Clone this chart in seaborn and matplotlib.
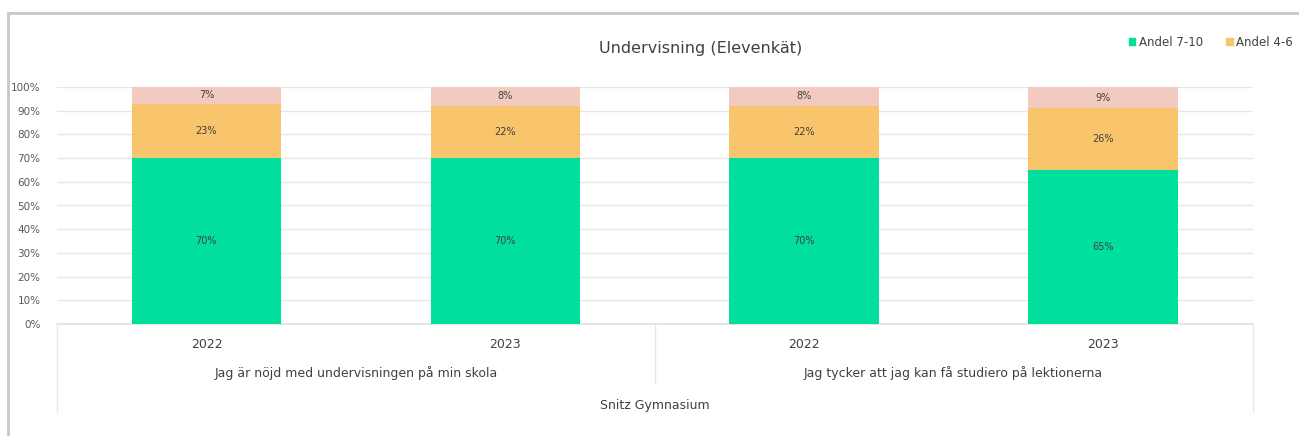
import matplotlib
matplotlib.use("Agg")
import matplotlib.pyplot as plt
import seaborn as sns
import numpy as np
import pandas as pd
from matplotlib.patches import Rectangle
from matplotlib.lines import Line2D

years = ["2022", "2023", "2022", "2023"]
questions = ["Jag är nöjd med undervisningen på min skola",
             "Jag tycker att jag kan få studiero på lektionerna"]
school = "Snitz Gymnasium"
andel_7_10 = [70, 70, 70, 65]
andel_4_6 = [23, 22, 22, 26]
andel_1_3 = [7, 8, 8, 9]
series_names = ["Andel 7-10", "Andel 4-6", "Andel 1-3"]
colors = ["#00DF9C", "#F8C46C", "#F2CAC0"]
title = "Undervisning (Elevenkät)"

sns.set_theme(style="white")
plt.rcParams["font.family"] = ["DejaVu Sans"]

fig = plt.figure(figsize=(12.99, 4.36), dpi=100)
ax = fig.add_axes([57 / 1299, 1 - 324 / 436, (1252.5 - 57) / 1299, (324 - 87) / 436])

bar_ids = [f"b{i}" for i in range(len(years))]
bottom = np.zeros(len(years))
series = [andel_7_10, andel_4_6, andel_1_3]
for vals, name, col in zip(series, series_names, colors):
    v = np.array(vals) / 100.0
    sns.barplot(x=bar_ids, y=v, bottom=bottom, color=col, width=0.5,
                ax=ax, saturation=1, linewidth=0, order=bar_ids)
    for i, (b, h) in enumerate(zip(bottom, v)):
        ax.text(i, b + h / 2, f"{vals[i]}%", ha="center", va="center",
                fontsize=7, color="#404040")
    bottom = bottom + v

leg = ax.get_legend()
if leg is not None:
    leg.remove()

ax.set_xlim(-0.5, 3.5)
ax.set_ylim(0, 1)
ticks = np.arange(0, 1.01, 0.1)
ax.set_yticks(ticks)
ax.set_yticklabels([f"{int(round(t*100))}%" for t in ticks],
                   fontsize=7.5, color="#595959")
ax.tick_params(axis="y", length=0, pad=12)
ax.set_xticks([])
ax.set_xlabel("")
ax.set_ylabel("")
for s in ax.spines.values():
    s.set_visible(False)
ax.yaxis.grid(True, color="#E6E6E6", linewidth=1)
ax.set_axisbelow(True)
ax.add_line(Line2D([-0.5, 3.5], [0, 0], color="#E0E0E0", linewidth=1.2,
                   clip_on=False, zorder=0.5))

trans = ax.get_xaxis_transform()
for i, y in enumerate(years):
    ax.text(i, -0.088, y, ha="center", va="center", fontsize=9,
            color="#404040", transform=trans)
for j, q in enumerate(questions):
    ax.text(j * 2 + 0.5, -0.207, q, ha="center", va="center", fontsize=9,
            color="#404040", transform=trans)
ax.text(1.5, -0.342, school, ha="center", va="center", fontsize=9,
        color="#404040", transform=trans)
for x, yb in [(-0.5, -0.371), (1.5, -0.249), (3.5, -0.371)]:
    ax.add_line(Line2D([x, x], [0, yb], color="#E6E6E6", linewidth=1,
                       transform=trans, clip_on=False))

fig.text(701 / 1299, 1 - 48 / 436, title, ha="center", va="center",
         fontsize=11.5, color="#404040")

handles = [Rectangle((0, 0), 1, 1, color=colors[0]),
           Rectangle((0, 0), 1, 1, color=colors[1])]
fig.legend(handles, series_names[:2], loc="center right",
           bbox_to_anchor=(1.0, 1 - 42 / 436), ncol=2, frameon=False,
           fontsize=8.5, handlelength=0.55, handleheight=0.55,
           handletextpad=0.3, columnspacing=2.0, labelcolor="#404040",
           borderaxespad=0.1)

fig.add_artist(Rectangle((8 / 1299, -0.1), 1.2, 1 - 13 / 436 + 0.1,
                         transform=fig.transFigure, fill=False,
                         edgecolor="#C8C8C8", linewidth=2))

fig.savefig("out.png", dpi=100)
